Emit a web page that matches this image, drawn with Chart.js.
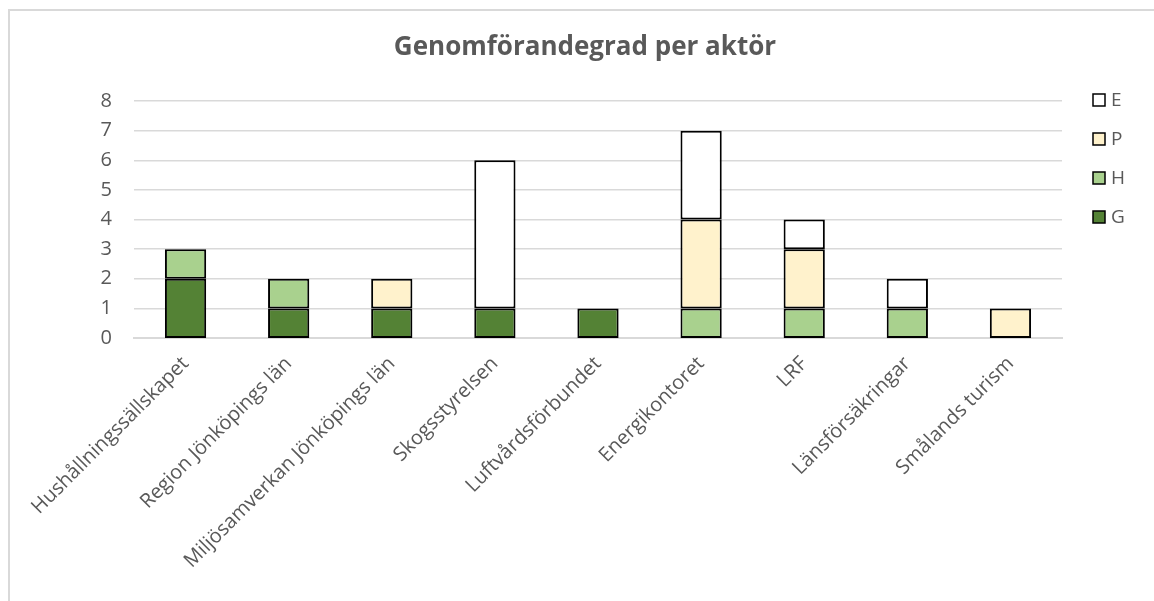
<!DOCTYPE html>
<html>
<head>
<meta charset="utf-8">
<script src="https://cdn.jsdelivr.net/npm/chart.js@4/dist/chart.umd.min.js"></script>
<style>
  html, body { margin: 0; padding: 0; background: #fff; }
  .frame { position: absolute; left: 8px; top: 9px; width: 2000px; height: 2000px;
           border-left: 2px solid #d9d9d9; border-top: 2px solid #d9d9d9; }
  #wrap { position: absolute; left: 0; top: 0; width: 1154px; height: 601px; }
</style>
</head>
<body>
<div class="frame"></div>
<div id="wrap"><canvas id="c"></canvas></div>
<script>
// actors along the x axis
const actors = [
  "Hushållningssällskapet", "Region Jönköpings län", "Miljösamverkan Jönköpings län",
  "Skogsstyrelsen", "Luftvårdsförbundet", "Energikontoret", "LRF",
  "Länsförsäkringar", "Smålands turism"
];
// counts per grade, bottom to top of the stack
const gradeG = [2, 1, 1, 1, 1, 0, 0, 0, 0];
const gradeH = [1, 1, 0, 0, 0, 1, 1, 1, 0];
const gradeP = [0, 0, 1, 0, 0, 3, 2, 0, 1];
const gradeE = [0, 0, 0, 5, 0, 3, 1, 1, 0];
const yTicks = [0, 1, 2, 3, 4, 5, 6, 7, 8];
const chartTitle = "Genomförandegrad per aktör";

const TEXT = "#595959";
const GRID = "#d9d9d9";
const FONT = "'Open Sans', sans-serif";

const series = (label, data, color) => ({
  label, data,
  backgroundColor: color,
  borderColor: "#000",
  borderWidth: 2,
  borderSkipped: false,
  barPercentage: 0.4,
  categoryPercentage: 1,
});

// title is centred on the whole frame, not on the plot, so draw it by hand
const frameTitle = {
  id: "frameTitle",
  afterDraw(chart) {
    const ctx = chart.ctx;
    ctx.save();
    ctx.font = "bold 26px " + FONT;
    ctx.fillStyle = TEXT;
    ctx.textAlign = "center";
    ctx.textBaseline = "middle";
    ctx.fillText(chartTitle, 585, 48);
    ctx.restore();
  }
};

// legend drawn by hand on the right, top entry is the top of the stack
const sideLegend = {
  id: "sideLegend",
  afterDraw(chart) {
    const ctx = chart.ctx;
    const sets = chart.data.datasets.slice().reverse();
    ctx.save();
    ctx.font = "19px " + FONT;
    ctx.textBaseline = "middle";
    sets.forEach((ds, i) => {
      const y = 100 + i * 39;
      ctx.fillStyle = ds.backgroundColor;
      ctx.fillRect(1093, y - 6, 12, 12);
      ctx.strokeStyle = "#000";
      ctx.lineWidth = 1.5;
      ctx.strokeRect(1093, y - 6, 12, 12);
      ctx.fillStyle = TEXT;
      ctx.fillText(ds.label, 1111, y + 1);
    });
    ctx.restore();
  }
};

new Chart(document.getElementById("c"), {
  type: "bar",
  data: {
    labels: actors,
    datasets: [
      series("G", gradeG, "#548235"),
      series("H", gradeH, "#a9d18e"),
      series("P", gradeP, "#fff2cc"),
      series("E", gradeE, "#ffffff"),
    ],
  },
  options: {
    responsive: true,
    maintainAspectRatio: false,
    animation: false,
    layout: { padding: { left: 16, right: 92, top: 101, bottom: 0 } },
    plugins: {
      legend: { display: false },
      tooltip: { enabled: false },
      title: { display: false },
    },
    scales: {
      x: {
        stacked: true,
        grid: { display: false },
        border: { display: true, color: GRID, width: 2 },
        ticks: {
          color: TEXT, font: { family: FONT, size: 20 },
          minRotation: 45, maxRotation: 45, autoSkip: false, padding: 6,
        },
        afterFit(s) { s.height = 263; },
      },
      y: {
        stacked: true,
        min: 0, max: 8,
        border: { display: false },
        grid: { color: GRID, lineWidth: (c) => (c.tick && c.tick.value === 0 ? 0 : 1.5), drawTicks: false },
        afterBuildTicks(s) { s.ticks = yTicks.map((v) => ({ value: v })); },
        ticks: { color: TEXT, font: { family: FONT, size: 20 }, padding: 22 },
        afterFit(s) { s.width = 118; },
      },
    },
  },
  plugins: [frameTitle, sideLegend],
});
</script>
</body>
</html>
